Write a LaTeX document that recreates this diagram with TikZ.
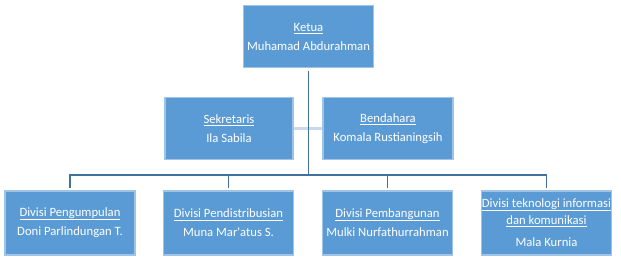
\documentclass[tikz,border=0pt]{standalone}
\usepackage{fontspec}
\setmainfont{Carlito}
\definecolor{boxblue}{RGB}{91,155,213}
\definecolor{boxedge}{RGB}{160,196,231}
\definecolor{linkblue}{RGB}{65,113,156}
\definecolor{assistblue}{RGB}{200,217,236}
\tikzset{
  unit/.style={rectangle, fill=boxblue, draw=boxedge, line width=0.8pt,
    text=white, align=center, inner sep=0pt,
    font=\fontsize{9.5}{12.5}\selectfont},
  link/.style={draw=linkblue, line width=0.9pt},
  assist/.style={draw=assistblue, line width=1.6pt}
}
% underline just under the baseline, whatever the letters
\newcommand{\garis}[1]{\underline{\smash{#1}}\vphantom{gj}}
\newcommand{\jabatan}[1]{\garis{#1}\\[1.5pt]}
\begin{document}
\begin{tikzpicture}[x=0.75pt,y=-0.75pt]
      \useasboundingbox (0,0) rectangle (621,259);
      \draw
        (308.5,36.5) node[unit, minimum width=98pt, minimum height=46pt] (ketua){\jabatan{Ketua}Muhamad Abdurahman}
        (229,128.5) node[unit, minimum width=96pt, minimum height=46pt] (sek){\jabatan{Sekretaris}Ila Sabila}
        (388,128.5) node[unit, minimum width=97.5pt, minimum height=46pt] (bend){\jabatan{Bendahara}Komala Rustianingsih}
        (70,223) node[unit, minimum width=97.5pt, minimum height=48pt] (d1){\jabatan{Divisi Pengumpulan}Doni Parlindungan T.}
        (228.5,223) node[unit, minimum width=97.5pt, minimum height=48pt] (d2){\jabatan{Divisi Pendistribusian}Muna Mar\textquotesingle atus S.}
        (387.5,223) node[unit, minimum width=97.5pt, minimum height=48pt] (d3){\jabatan{Divisi Pembangunan}Mulki Nurfathurrahman}
        (546.5,223) node[unit, minimum width=97.5pt, minimum height=48pt] (d4){\fontsize{9.5}{9}\selectfont\garis{Divisi teknologi informasi}\\\garis{dan komunikasi}\\[4pt]Mala Kurnia};
      \coordinate (bus) at (308.5,175);
      \begin{scope}[-]
        \draw[assist] (sek) to (bend);
        \draw[link, shorten <=2.5pt] (ketua) to (bus);
        \draw[link, shorten >=1.5pt] (bus) -| (d1);
        \draw[link, shorten >=1.5pt] (bus) -| (d2);
        \draw[link, shorten >=1.5pt] (bus) -| (d3);
        \draw[link, shorten >=1.5pt] (bus) -| (d4);
      \end{scope}
    \end{tikzpicture}
\end{document}
